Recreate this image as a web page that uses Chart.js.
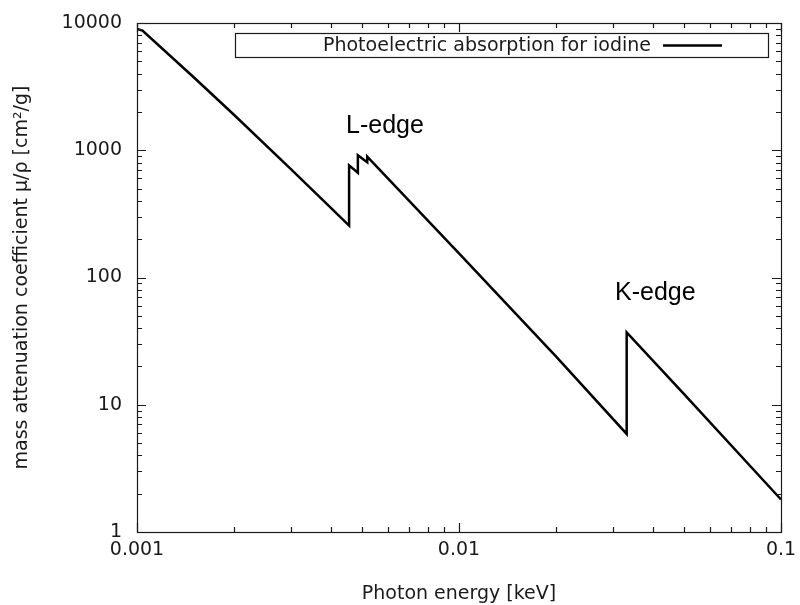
<!DOCTYPE html>
<html>
<head>
<meta charset="utf-8">
<script src="https://cdn.jsdelivr.net/npm/chart.js@4"></script>
<style>
  html, body { margin: 0; padding: 0; background: #fff; }
  canvas { display: block; }
</style>
</head>
<body>
<canvas id="chart" width="800" height="605"></canvas>
<script>
// photon energy (as labelled on the axis) and photoelectric mass attenuation of iodine
const energy = [0.001, 0.00104, 0.0015, 0.002, 0.003, 0.004, 0.004557, 0.004557, 0.004852, 0.004852, 0.005188, 0.005188, 0.01, 0.02, 0.03317, 0.03317, 0.05, 0.1];
const muRho  = [9000, 8730, 3750, 1900, 715, 352, 256, 760, 665, 915, 805, 890, 155, 24, 5.9, 37, 12.1, 1.8];

const xTicks = [0.001, 0.01, 0.1];
const xTickLabels = ['0.001', '0.01', '0.1'];
const yTicks = [1, 10, 100, 1000, 10000];
const yTickLabels = ['1', '10', '100', '1000', '10000'];

const seriesLabel = 'Photoelectric absorption for iodine';
const edgeLabels = [
  { text: 'L-edge', x: 0.00589, y: 1556 },
  { text: 'K-edge', x: 0.0407, y: 75 }
];

const points = energy.map((e, i) => ({ x: e, y: muRho[i] }));
const textFont = { family: 'DejaVu Sans', size: 19 };
const ink = '#1a1a1a';

// gnuplot style frame, inward ticks, legend box and edge labels
const gnuplotBits = {
  id: 'gnuplotBits',
  afterDatasetsDraw(chart) {
    const { ctx, chartArea: a, scales } = chart;
    const xs = scales.x, ys = scales.y;
    ctx.save();
    ctx.strokeStyle = ink;
    ctx.lineWidth = 1.2;

    ctx.beginPath();
    for (let d = 0.001; d < 0.1 * 1.01; d *= 10) {
      for (let m = 1; m <= 9; m++) {
        const v = m * d;
        if (v > 0.1 * 1.0001) break;
        const px = Math.round(xs.getPixelForValue(v)) + 0.5;
        const len = m === 1 ? 9 : 5;
        ctx.moveTo(px, a.bottom); ctx.lineTo(px, a.bottom - len);
        ctx.moveTo(px, a.top); ctx.lineTo(px, a.top + len);
      }
    }
    for (let d = 1; d < 10000 * 1.01; d *= 10) {
      for (let m = 1; m <= 9; m++) {
        const v = m * d;
        if (v > 10000 * 1.0001) break;
        const py = Math.round(ys.getPixelForValue(v)) + 0.5;
        const len = m === 1 ? 9 : 5;
        ctx.moveTo(a.left, py); ctx.lineTo(a.left + len, py);
        ctx.moveTo(a.right, py); ctx.lineTo(a.right - len, py);
      }
    }
    ctx.stroke();

    ctx.strokeRect(Math.round(a.left) + 0.5, Math.round(a.top) + 0.5,
      Math.round(a.right - a.left), Math.round(a.bottom - a.top));

    // key
    ctx.lineWidth = 1.2;
    ctx.strokeRect(235.5, 33.5, 533, 24);
    ctx.fillStyle = ink;
    ctx.font = '19px "DejaVu Sans"';
    ctx.textAlign = 'right';
    ctx.textBaseline = 'middle';
    ctx.fillText(seriesLabel, 651, 46);
    ctx.lineWidth = 2.5;
    ctx.strokeStyle = '#000';
    ctx.beginPath();
    ctx.moveTo(663, 45.5); ctx.lineTo(722, 45.5);
    ctx.stroke();

    // edge annotations
    ctx.font = '25px "Liberation Sans", Arial, sans-serif';
    ctx.textAlign = 'center';
    ctx.fillStyle = '#000';
    edgeLabels.forEach(l => {
      ctx.fillText(l.text, xs.getPixelForValue(l.x), ys.getPixelForValue(l.y));
    });
    ctx.restore();
  }
};

new Chart(document.getElementById('chart'), {
  type: 'scatter',
  plugins: [gnuplotBits],
  data: {
    datasets: [{
      label: seriesLabel,
      data: points,
      showLine: true,
      borderColor: '#000',
      borderWidth: 2.5,
      pointRadius: 0,
      tension: 0
    }]
  },
  options: {
    responsive: false,
    animation: false,
    devicePixelRatio: 1,
    layout: { padding: { left: 0, right: 19, top: 23, bottom: 0 } },
    plugins: {
      legend: { display: false },
      tooltip: { enabled: false }
    },
    scales: {
      x: {
        type: 'logarithmic',
        min: 0.001,
        max: 0.1,
        afterBuildTicks: s => { s.ticks = xTicks.map(v => ({ value: v })); },
        afterFit: s => { s.height = 73; s.paddingLeft = 0; s.paddingRight = 0; },
        grid: { display: false, drawTicks: false },
        border: { display: false },
        ticks: {
          autoSkip: false,
          maxRotation: 0,
          padding: 7,
          color: ink,
          font: textFont,
          callback: (v, i) => xTickLabels[i]
        },
        title: {
          display: true,
          text: 'Photon energy [keV]',
          color: ink,
          font: textFont,
          padding: { top: 2, bottom: 0 }
        }
      },
      y: {
        type: 'logarithmic',
        min: 1,
        max: 10000,
        afterBuildTicks: s => { s.ticks = yTicks.map(v => ({ value: v })); },
        afterFit: s => { s.width = 137; s.paddingTop = 0; s.paddingBottom = 0; },
        grid: { display: false, drawTicks: false },
        border: { display: false },
        ticks: {
          autoSkip: false,
          padding: 15,
          color: ink,
          font: textFont,
          callback: (v, i) => yTickLabels[i]
        },
        title: {
          display: true,
          text: 'mass attenuation coefficient μ/ρ [cm²/g]',
          color: ink,
          font: textFont,
          padding: { top: 11, bottom: 0 }
        }
      }
    }
  }
});
</script>
</body>
</html>
